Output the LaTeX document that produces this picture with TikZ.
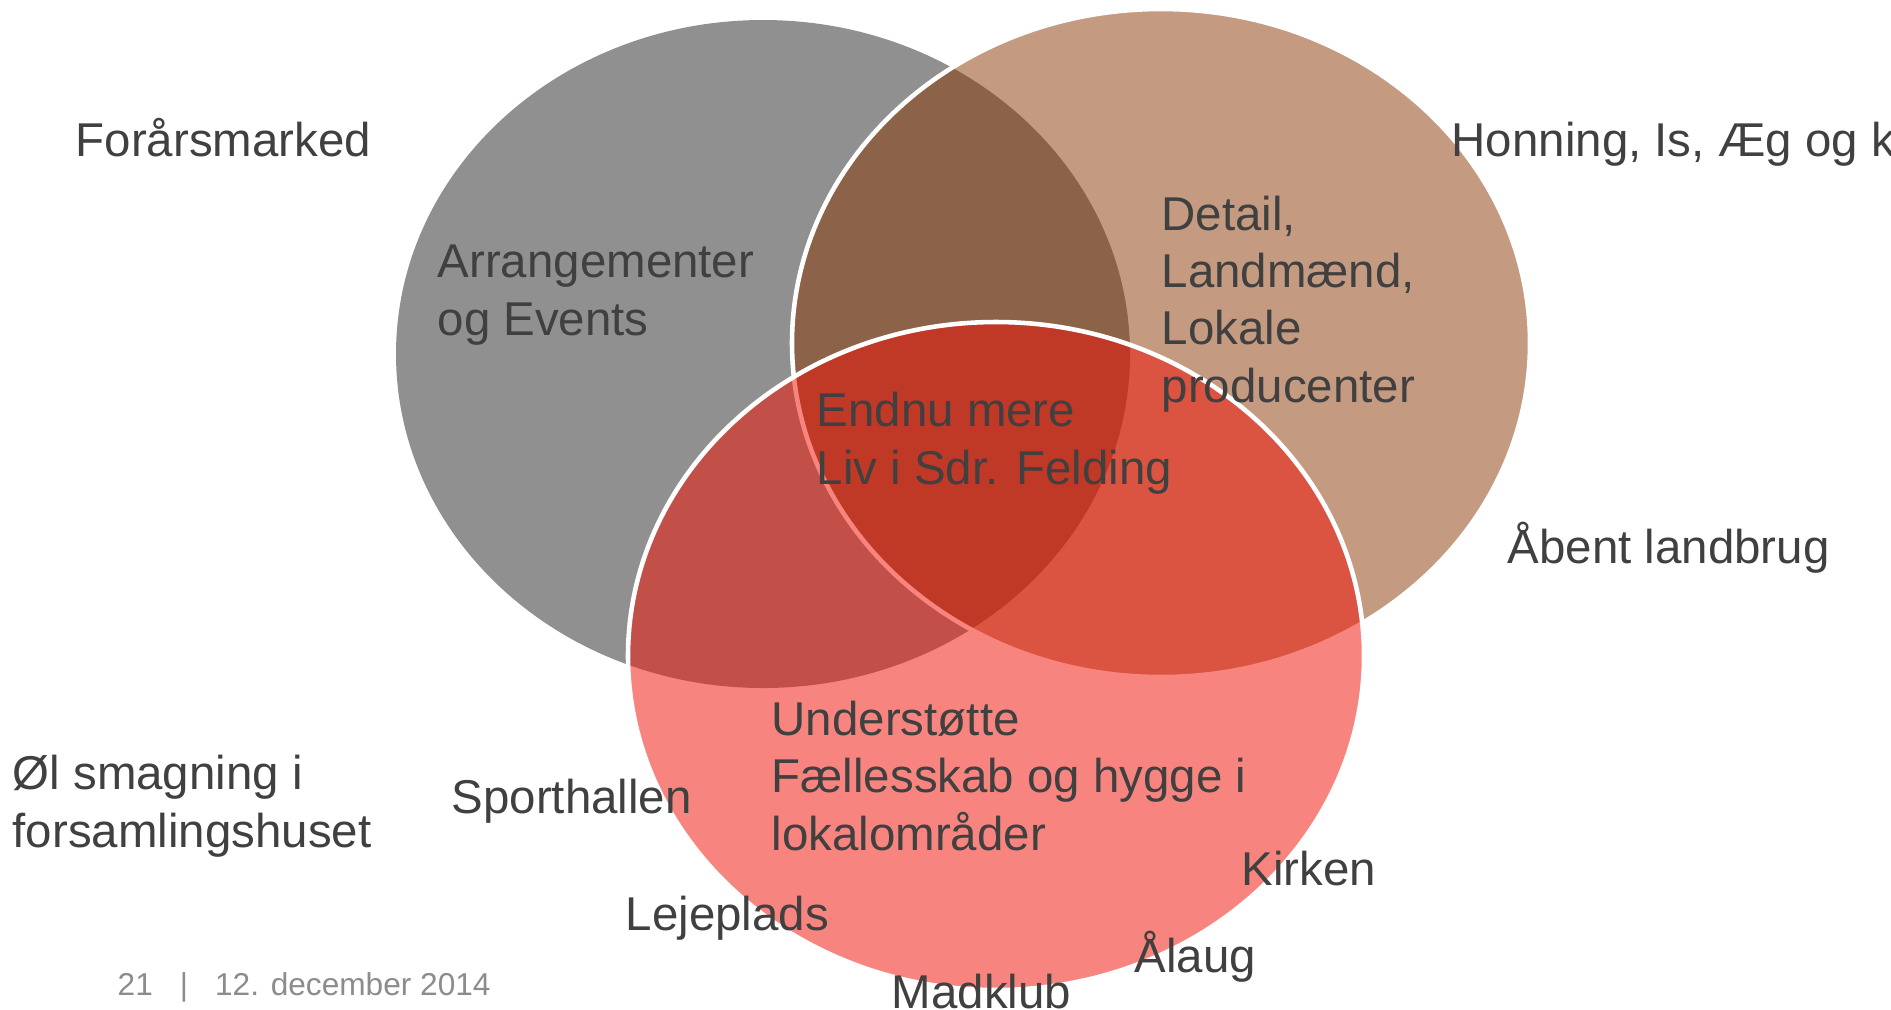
\documentclass[tikz,border=0pt]{standalone}
\usepackage{fontspec}
\setmainfont{Liberation Sans}
\usepackage{xcolor}
\usepackage{tikz}

\definecolor{setgray}{RGB}{144,144,144}
\definecolor{setbrown}{RGB}{137,53,1}
\definecolor{setred}{RGB}{240,20,7}
\definecolor{textdark}{RGB}{64,64,64}
\definecolor{footgray}{RGB}{140,140,140}

\begin{document}
\begin{tikzpicture}
        % Define styles
        \tikzset{
            word/.style={anchor=base west, inner sep=0pt, text=textdark, align=left, font=\fontsize{13.5pt}{16.3pt}\selectfont},
            footer/.style={anchor=base west, inner sep=0pt, text=footgray, font=\fontsize{9pt}{11pt}\selectfont},
            rim/.style={draw=white, line width=1.3pt}
        }
        \useasboundingbox (0,0) rectangle (18.91,-10.09);

        % Sets
        \fill[setgray] (7.63,-3.54) ellipse (3.67 and 3.34);
        \filldraw[rim, fill=setbrown, fill opacity=0.5] (11.61,-3.43) ellipse (3.69 and 3.34);
        \filldraw[rim, fill=setred, fill opacity=0.52] (9.96,-6.56) ellipse (3.68 and 3.34);

        % Set labels (placed at the baseline of their last line)
        \node[word] (events_node) at (4.37,-3.35) {Arrangementer\\og Events};
        \node[word] (detail_node) at (11.61,-4.02) {Detail,\\Landmænd,\\Lokale\\producenter};
        \node[word] (centre_node) at (8.16,-4.84) {Endnu mere\\Liv i Sdr. Felding};
        \node[word] (support_node) at (7.71,-8.50) {Understøtte\\Fællesskab og hygge i\\lokalområder};

        % Outer words
        \node[word] (outer_node_1) at (0.75,-1.56) {Forårsmarked};
        \node[word] (outer_node_2) at (14.51,-1.56) {Honning, Is, Æg og k};
        \node[word] (outer_node_3) at (15.07,-5.63) {Åbent landbrug};
        \node[word] (outer_node_4) at (0.12,-8.47) {Øl smagning i\\forsamlingshuset};
        \node[word] (outer_node_5) at (4.51,-8.13) {Sporthallen};
        \node[word] (outer_node_6) at (12.41,-8.85) {Kirken};
        \node[word] (outer_node_7) at (6.25,-9.30) {Lejeplads};
        \node[word] (outer_node_8) at (11.34,-9.72) {Ålaug};
        \node[word] (outer_node_9) at (8.91,-10.08) {Madklub};

        % Footer
        \node[footer] (page_node) at (1.17,-9.95) {21\hspace{0.27cm}|\hspace{0.27cm}12. december 2014};
    \end{tikzpicture}
\end{document}
